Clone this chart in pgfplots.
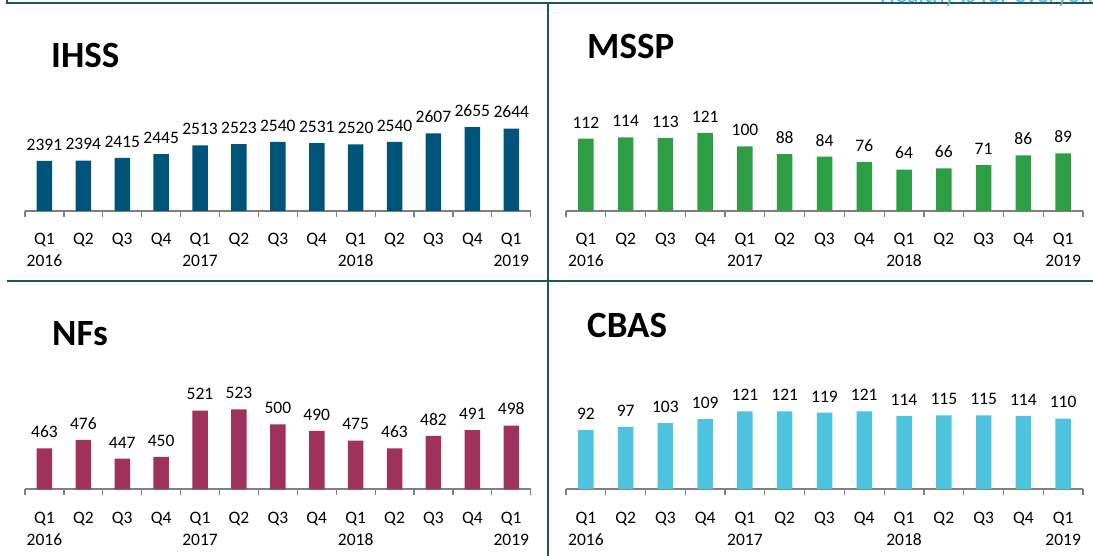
\documentclass[border=0pt]{standalone}
\usepackage{fontspec}
\setmainfont{Carlito}
\usepackage{pgfplots}
\pgfplotsset{compat=1.18}
\definecolor{ihss}{RGB}{0,84,122}
\definecolor{mssp}{RGB}{46,158,68}
\definecolor{nfs}{RGB}{158,50,90}
\definecolor{cbas}{RGB}{78,195,224}
\definecolor{frame}{RGB}{31,85,99}
\definecolor{axisgray}{RGB}{128,128,128}
\definecolor{tagline}{RGB}{77,184,216}
\pgfplotsset{panel/.style={
  scale only axis, height=130pt, xmin=-0.5, xmax=12.5,
  ybar, bar width=15.5pt,
  axis x line*=bottom, axis y line=none,
  axis line style={draw=axisgray, line width=2pt},
  xtick={0,...,12},
  xticklabels={{Q1\\2016},Q2,Q3,Q4,{Q1\\2017},Q2,Q3,Q4,{Q1\\2018},Q2,Q3,Q4,{Q1\\2019}},
  xticklabel style={align=center, font=\fontsize{17.5}{22}\selectfont, text=black, yshift=-19pt},
  major tick length=0pt,
  minor xtick={-0.5,0.5,...,12.5},
  minor tick length=6pt, tick align=outside,
  minor tick style={draw=axisgray, line width=1.2pt},
  nodes near coords,
  every node near coord/.append style={font=\fontsize{17.5}{20}\selectfont, text=black, yshift=7pt,
     /pgf/number format/.cd, fixed, precision=0, 1000 sep={}, assume math mode=true},
  clip=false, enlarge x limits=false
}}
\begin{document}
\begin{tikzpicture}[x=1pt,y=1pt]
\useasboundingbox (0,0) rectangle (1093,556);
% frame
\draw[frame, line width=2pt] (6.5,556) -- (6.5,553) -- (1093,553);
\draw[frame, line width=2pt] (548,553) -- (548,0);
\draw[frame, line width=2pt] (6.5,275) -- (1093,275);
\begin{scope}
\clip (0,0) rectangle (1093,556);
\node[anchor=base west, inner sep=0, text=tagline, font=\fontsize{24}{24}\selectfont] at (880,553.6) {Healthy is for everyone};
\end{scope}
% titles
\node[anchor=base west, inner sep=0, font=\fontsize{37}{37}\bfseries\selectfont] at (51,488) {IHSS};
\node[anchor=base west, inner sep=0, font=\fontsize{37}{37}\bfseries\selectfont] at (587,497) {MSSP};
\node[anchor=base west, inner sep=0, font=\fontsize{37}{37}\bfseries\selectfont] at (52,210) {NFs};
\node[anchor=base west, inner sep=0, font=\fontsize{37}{37}\bfseries\selectfont] at (587,218) {CBAS};
% IHSS
\begin{axis}[panel, at={(25pt,345pt)}, anchor=south west, width=505.7pt, ymin=2000, ymax=3015.6]
\addplot[fill=ihss, draw=none] coordinates {(0,2391) (1,2394) (2,2415) (3,2445) (4,2513) (5,2523) (6,2540) (7,2531) (8,2520) (9,2540) (10,2607) (11,2655) (12,2644)};
\end{axis}
% MSSP
\begin{axis}[panel, at={(566pt,345pt)}, anchor=south west, width=517pt, ymin=0, ymax=201.2]
\addplot[fill=mssp, draw=none] coordinates {(0,112) (1,114) (2,113) (3,121) (4,100) (5,88) (6,84) (7,76) (8,64) (9,66) (10,71) (11,86) (12,89)};
\end{axis}
% NFs
\begin{axis}[panel, at={(25pt,66.7pt)}, anchor=south west, width=505.7pt, ymin=400, ymax=600]
\addplot[fill=nfs, draw=none] coordinates {(0,463) (1,476) (2,447) (3,450) (4,521) (5,523) (6,500) (7,490) (8,475) (9,463) (10,482) (11,491) (12,498)};
\end{axis}
% CBAS
\begin{axis}[panel, at={(566pt,66.7pt)}, anchor=south west, width=517pt, ymin=0, ymax=202]
\addplot[fill=cbas, draw=none] coordinates {(0,92) (1,97) (2,103) (3,109) (4,121) (5,121) (6,119) (7,121) (8,114) (9,115) (10,115) (11,114) (12,110)};
\end{axis}
\end{tikzpicture}
\end{document}
